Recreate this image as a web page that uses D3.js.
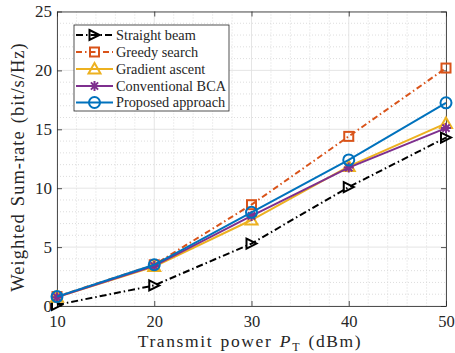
<!DOCTYPE html>
<html><head><meta charset="utf-8">
<script src="https://cdn.jsdelivr.net/npm/d3@7"></script>
<style>body{margin:0;background:#fff}svg{display:block}</style>
</head><body>
<svg id="c" width="455" height="353"></svg>
<script>
const powers = [10, 20, 30, 40, 50];
const straightBeam = [0.1, 1.75, 5.3, 10.1, 14.3];
const greedySearch = [0.8, 3.5, 8.6, 14.4, 20.2];
const gradientAscent = [0.75, 3.35, 7.3, 11.85, 15.5];
const conventionalBCA = [0.75, 3.4, 7.65, 11.75, 15.1];
const proposedApproach = [0.8, 3.5, 7.95, 12.4, 17.25];
const xTicks = [10, 20, 30, 40, 50];
const yTicks = [0, 5, 10, 15, 20, 25];
const seriesNames = ["Straight beam", "Greedy search", "Gradient ascent", "Conventional BCA", "Proposed approach"];

const FONT = "Liberation Serif";
const colors = ["#000000", "#D95319", "#EDB120", "#7E2F8E", "#0072BD"];
const markers = ["triRight", "square", "triUp", "star", "circle"];
const dashes = ["7,3,1.5,3", "6,3,1.5,3", null, null, null];
const seriesData = [straightBeam, greedySearch, gradientAscent, conventionalBCA, proposedApproach];

const svg = d3.select("#c");
const L = 57, R = 446, T = 11.5, B = 306;
const x = d3.scaleLinear().domain([10, 50]).range([L, R]);
const y = d3.scaleLinear().domain([0, 25]).range([B, T]);

// grids
const g = svg.append("g");
const minorX = d3.range(10, 50.01, 2).filter(v => v % 10 !== 0);
const minorY = d3.range(0, 25.01, 1).filter(v => v % 5 !== 0);
g.selectAll(".mx").data(minorX).enter().append("line")
  .attr("x1", d => x(d)).attr("x2", d => x(d)).attr("y1", T).attr("y2", B)
  .attr("stroke", "#d4d4d4").attr("stroke-width", 0.8).attr("stroke-dasharray", "1,2");
g.selectAll(".my").data(minorY).enter().append("line")
  .attr("y1", d => y(d)).attr("y2", d => y(d)).attr("x1", L).attr("x2", R)
  .attr("stroke", "#d4d4d4").attr("stroke-width", 0.8).attr("stroke-dasharray", "1,2");
g.selectAll(".gx").data(xTicks).enter().append("line")
  .attr("x1", d => x(d)).attr("x2", d => x(d)).attr("y1", T).attr("y2", B)
  .attr("stroke", "#dedede").attr("stroke-width", 0.8);
g.selectAll(".gy").data(yTicks).enter().append("line")
  .attr("y1", d => y(d)).attr("y2", d => y(d)).attr("x1", L).attr("x2", R)
  .attr("stroke", "#dedede").attr("stroke-width", 0.8);

// axes
const ax = svg.append("g").attr("transform", `translate(0,${B})`)
  .call(d3.axisBottom(x).tickValues(xTicks).tickSizeInner(-5).tickSizeOuter(0).tickPadding(9));
const axTop = svg.append("g").attr("transform", `translate(0,${T})`)
  .call(d3.axisTop(x).tickValues(xTicks).tickSizeInner(-5).tickSizeOuter(0).tickFormat(""));
const ay = svg.append("g").attr("transform", `translate(${L},0)`)
  .call(d3.axisLeft(y).tickValues(yTicks).tickSizeInner(-5).tickSizeOuter(0).tickPadding(5));
const ayR = svg.append("g").attr("transform", `translate(${R},0)`)
  .call(d3.axisRight(y).tickValues(yTicks).tickSizeInner(-5).tickSizeOuter(0).tickFormat(""));
[ax, axTop, ay, ayR].forEach(a => {
  a.attr("font-family", FONT).attr("font-size", 17);
  a.select(".domain").attr("stroke", "#262626").attr("stroke-width", 0.8);
  a.selectAll(".tick line").attr("stroke", "#262626").attr("stroke-width", 0.8);
  a.selectAll("text").attr("fill", "#262626").attr("font-family", FONT).attr("font-size", 17);
});
ax.selectAll("text").attr("font-size", 16.5);

// axis titles
const xt = svg.append("text").attr("x", 250).attr("y", 347).attr("text-anchor", "middle")
  .attr("font-family", FONT).attr("font-size", 17.5).attr("fill", "#262626")
  .attr("letter-spacing", 1.6).attr("word-spacing", 1.5);
xt.append("tspan").text("Transmit power ");
xt.append("tspan").attr("font-style", "italic").text("P");
xt.append("tspan").attr("dy", 4).attr("font-size", 12).text("T");
xt.append("tspan").attr("dy", -4).text(" (dBm)");
svg.append("text").attr("transform", `translate(24,167) rotate(-90)`)
  .attr("text-anchor", "middle").attr("font-family", FONT).attr("font-size", 18.5).attr("fill", "#262626")
  .attr("letter-spacing", 1).attr("word-spacing", 1.5)
  .text("Weighted Sum-rate (bit/s/Hz)");

function drawMarker(sel, type, color, cx, cy) {
  const s = 5;
  if (type === "triRight") {
    sel.append("path").attr("d", `M${cx - s},${cy - s} L${cx + s},${cy} L${cx - s},${cy + s} Z`)
      .attr("fill", "none").attr("stroke", color).attr("stroke-width", 2);
  } else if (type === "square") {
    sel.append("rect").attr("x", cx - 4.5).attr("y", cy - 4.5).attr("width", 9).attr("height", 9)
      .attr("fill", "none").attr("stroke", color).attr("stroke-width", 2);
  } else if (type === "triUp") {
    sel.append("path").attr("d", `M${cx},${cy - 6} L${cx + 6},${cy + 4.5} L${cx - 6},${cy + 4.5} Z`)
      .attr("fill", "none").attr("stroke", color).attr("stroke-width", 2);
  } else if (type === "star") {
    const r = 5, d = 3.6;
    sel.append("path").attr("d", `M${cx - r},${cy}L${cx + r},${cy}M${cx},${cy - r}L${cx},${cy + r}M${cx - d},${cy - d}L${cx + d},${cy + d}M${cx - d},${cy + d}L${cx + d},${cy - d}`)
      .attr("stroke", color).attr("stroke-width", 2).attr("fill", "none");
  } else if (type === "circle") {
    sel.append("circle").attr("cx", cx).attr("cy", cy).attr("r", 5.5)
      .attr("fill", "none").attr("stroke", color).attr("stroke-width", 2);
  }
}

const line = d3.line().x((d, i) => x(powers[i])).y(d => y(d));
const plot = svg.append("g");
seriesData.forEach((vals, k) => {
  const sg = plot.append("g");
  sg.append("path").datum(vals).attr("d", line).attr("fill", "none")
    .attr("stroke", colors[k]).attr("stroke-width", 2)
    .attr("stroke-dasharray", dashes[k]);
  vals.forEach((v, i) => drawMarker(sg, markers[k], colors[k], x(powers[i]), y(v)));
});

// legend
const lg = svg.append("g");
lg.append("rect").attr("x", 74).attr("y", 25).attr("width", 155).attr("height", 86)
  .attr("fill", "#fff").attr("stroke", "#262626").attr("stroke-width", 0.8);
const rowY = [35, 52, 69, 86, 102.5];
seriesNames.forEach((name, k) => {
  const yy = rowY[k];
  lg.append("line").attr("x1", 76).attr("x2", 113).attr("y1", yy).attr("y2", yy)
    .attr("stroke", colors[k]).attr("stroke-width", 2).attr("stroke-dasharray", dashes[k]);
  drawMarker(lg, markers[k], colors[k], 94.5, yy);
  lg.append("text").attr("x", 116).attr("y", yy + 4.5).attr("font-family", FONT)
    .attr("font-size", 14.3).attr("fill", "#262626").text(name);
});
</script>
</body></html>
